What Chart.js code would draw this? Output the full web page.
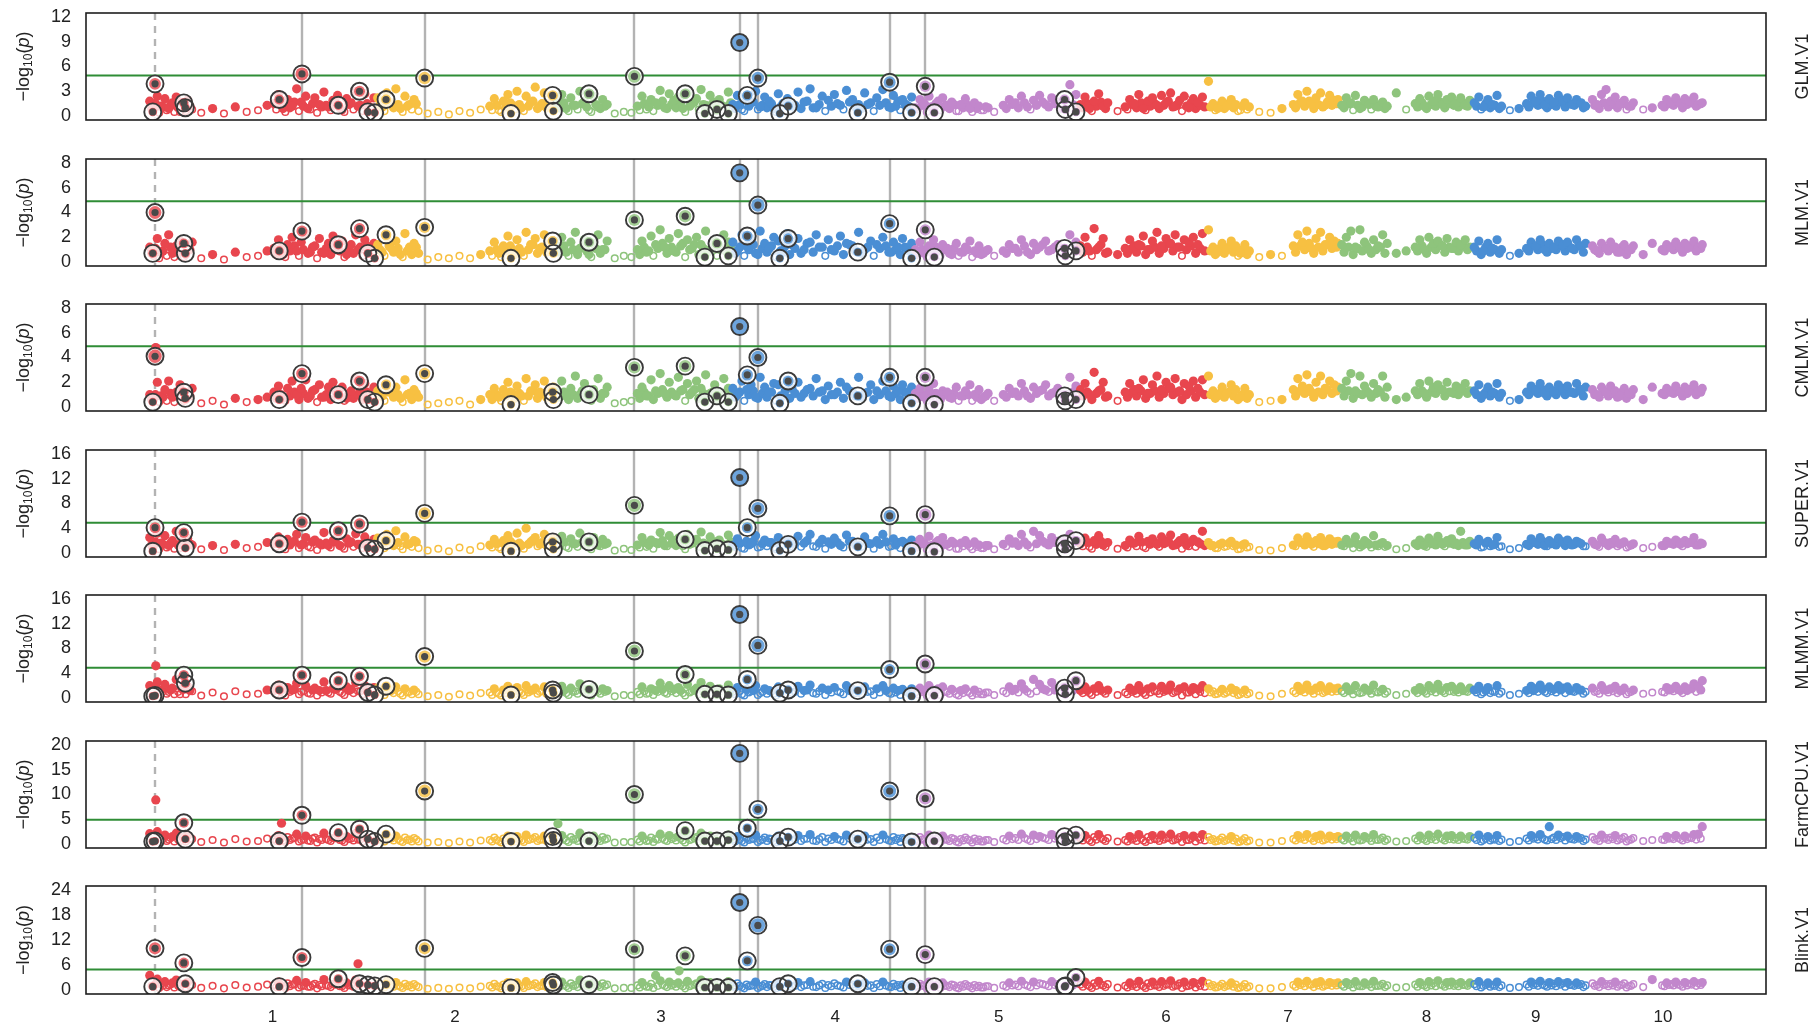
<!DOCTYPE html>
<html>
<head>
<meta charset="utf-8">
<script src="https://cdn.jsdelivr.net/npm/chart.js@4.4.1/dist/chart.umd.min.js"></script>
<style>
html, body { margin: 0; padding: 0; background: #fff; }
#wrap { position: relative; width: 1815px; height: 1024px; overflow: hidden; background: #fff; }
.panel { position: absolute; left: 0; width: 1815px; }
</style>
</head>
<body>
<div id="wrap"></div>
<script>
// ---- panels ----
const panelNames = ['GLM.V1', 'MLM.V1', 'CMLM.V1', 'SUPER.V1', 'MLMM.V1', 'FarmCPU.V1', 'Blink.V1'];
const yMax = [12, 8, 8, 16, 16, 20, 24];
const yTicks = [
    [0, 3, 6, 9, 12],
    [0, 2, 4, 6, 8],
    [0, 2, 4, 6, 8],
    [0, 4, 8, 12, 16],
    [0, 4, 8, 12, 16],
    [0, 5, 10, 15, 20],
    [0, 6, 12, 18, 24]
];
const threshold = 4.9;

// ---- chromosomes (Mb) ----
const chrLen = [301, 237, 232, 241, 217, 169, 176, 175, 156, 150];
const chrColors = ['#e8464e', '#f7c042', '#8ec47c', '#4a8ed4', '#c287cc'];
const chrTickPos = [164, 405, 677, 907, 1123, 1344, 1505, 1688, 1832, 2000];
const chrTickLabels = ['1', '2', '3', '4', '5', '6', '7', '8', '9', '10'];

// marker positions within each chromosome (Mb), first set
const markerPos = [
    [2,7,12,17,22,27,32,37,42,47,52,58,70,85,100,115,130,145,157,166,172,178,184,190,196,202,208,214,220,226,232,238,244,250,256,262,268,274,280,286,292,298],
    [2,8,14,20,26,32,38,44,50,56,68,82,96,110,124,138,150,156,162,168,174,180,186,192,198,204,210,216,222,228,234],
    [2,8,14,20,26,32,38,44,50,56,62,68,78,90,100,108,114,120,126,132,138,144,150,156,162,168,174,180,186,192,198,204,210,216,222,228],
    [2,8,14,20,26,32,38,44,50,56,62,68,74,80,88,96,104,112,120,128,136,144,152,160,168,176,184,192,200,208,214,220,226,232,238],
    [2,8,14,20,26,32,38,44,50,56,62,68,74,80,86,92,98,106,118,126,134,142,150,158,166,174,182,190,198,206,214],
    [3,9,15,21,27,33,39,52,62,68,74,80,86,92,98,104,110,116,122,128,134,140,146,152,158,164],
    [3,9,15,21,27,33,39,45,51,57,70,85,100,115,121,127,133,139,145,151,157,163,169,174],
    [3,9,15,21,27,33,39,45,51,57,63,75,88,100,106,112,118,124,130,136,142,148,154,160,166,172],
    [3,9,15,21,27,33,39,50,62,72,78,84,90,96,102,108,114,120,126,132,138,144,150],
    [3,9,15,21,27,33,39,45,51,57,70,82,95,101,107,113,119,125,131,137,143,148]
];
// second set, dense regions only
const markerPos2 = [
    [4.5,9.5,14.5,19.5,24.5,29.5,34.5,39.5,44.5,49.5,55,169,175,181,187,193,199,205,211,217,223,229,235,241,247,253,259,265,271,277,283,289,295],
    [5,11,17,23,29,35,41,47,53,153,159,165,171,177,183,189,195,201,207,213,219,225,231],
    [5,11,17,23,29,35,41,47,53,59,65,111,117,123,129,135,141,147,153,159,165,171,177,183,189,195,201,207,213,219,225,231],
    [5,11,17,23,29,35,41,47,53,59,65,71,77,84,92,100,108,116,124,132,140,148,156,164,172,180,188,196,204,211,217,223,229,235],
    [5,11,17,23,29,35,41,47,53,59,65,71,77,83,89,95,122,130,138,146,154,162,170,178,186,194,202,210],
    [6,12,18,24,30,36,65,71,77,83,89,95,101,107,113,119,125,131,137,143,149,155,161,167],
    [6,12,18,24,30,36,42,48,54,118,124,130,136,142,148,154,160,166,172],
    [6,12,18,24,30,36,42,48,54,60,103,109,115,121,127,133,139,145,151,157,163,169],
    [6,12,18,24,30,36,75,81,87,93,99,105,111,117,123,129,135,141,147],
    [6,12,18,24,30,36,42,48,54,98,104,110,116,122,128,134,140,146]
];

// -log10(p) of the background markers, one list per chromosome
const glmValues = [
    [1.8,0.6,2.4,1.2,2.1,0.9,1.6,2.3,0.5,1.4,1.9,0.8,0.4,0.9,0.3,1.1,0.5,0.7,1.3,1.5,2.6,0.9,2.0,1.2,3.3,1.7,2.4,0.8,2.2,1.4,2.9,1.1,1.9,2.5,0.7,2.1,1.6,3.0,1.3,2.7,0.9,2.2],
    [2.2,1.1,2.8,1.6,3.3,0.9,2.4,1.4,2.0,0.6,0.3,0.5,0.2,0.6,0.4,0.8,1.2,2.1,0.7,1.8,2.6,1.3,3.0,1.0,2.4,1.7,3.5,1.2,2.8,1.5,2.2],
    [1.6,2.6,0.9,2.2,1.3,3.0,1.8,0.7,2.4,1.1,2.0,1.4,0.3,0.5,0.4,1.2,2.4,0.8,2.0,1.6,3.1,1.0,2.7,1.9,2.3,0.9,2.8,1.5,2.1,3.2,1.3,2.5,1.7,2.0,0.8,2.9],
    [1.4,2.5,0.8,2.0,1.6,3.0,1.1,2.3,1.8,0.9,2.7,1.5,2.1,1.2,2.9,1.7,3.3,1.0,2.4,1.9,2.6,1.3,3.1,2.0,1.4,2.8,1.6,2.2,3.2,1.1,2.5,1.8,2.0,1.3,2.3],
    [1.0,2.0,1.5,2.4,0.8,1.8,2.2,1.3,1.7,0.6,1.4,2.1,0.9,1.6,1.2,0.7,1.0,0.5,1.3,2.0,1.6,2.4,1.1,1.9,2.5,1.4,2.2,1.7,2.0,3.8,2.6],
    [1.4,2.3,0.9,1.8,2.7,1.2,1.6,0.6,1.1,2.0,1.5,2.6,0.9,1.8,2.2,1.3,2.5,1.6,2.8,1.2,1.9,2.4,1.0,2.1,1.7,2.3],
    [4.2,1.5,0.9,1.8,1.2,2.0,1.4,0.7,1.6,1.1,0.5,0.4,0.9,1.4,2.6,1.8,3.0,1.5,2.2,2.8,1.3,2.5,1.9,2.0],
    [1.3,2.2,1.6,2.5,0.9,1.9,1.4,2.0,1.1,1.7,1.2,2.8,0.8,1.5,2.1,1.2,2.4,1.8,2.6,1.4,2.0,2.3,1.6,2.2,1.3,1.9],
    [1.6,2.3,1.1,2.0,1.4,2.5,1.2,0.7,0.9,1.5,2.4,1.8,2.6,1.3,2.1,1.7,2.5,1.9,2.2,1.4,2.0,1.6,1.2],
    [2.0,1.4,2.6,3.2,1.8,2.3,1.5,1.9,1.2,1.6,0.8,1.0,1.3,2.0,1.7,2.2,1.5,2.1,1.8,2.3,1.4,1.6]
];
const glmValues2 = [
    [0.9,1.5,0.4,1.1,0.7,1.3,0.5,1.0,1.6,0.6,1.2,0.8,1.4,0.5,1.0,1.7,0.6,1.2,0.9,1.5,0.4,1.1,1.3,0.7,1.6,1.0,0.5,1.4,0.8,1.2,0.6,1.5,1.0],
    [1.3,0.6,1.7,1.0,1.4,0.5,1.2,0.8,1.5,0.7,1.3,0.5,1.1,1.6,0.8,1.4,0.6,1.2,1.8,0.9,1.5,1.0,1.3],
    [1.0,1.6,0.6,1.3,0.8,1.5,1.1,0.5,1.4,0.9,1.2,0.7,1.5,1.1,0.6,1.3,1.8,0.9,1.4,1.0,1.6,0.5,1.2,1.7,0.8,1.4,1.0,1.5,0.6,1.3,1.1,1.6],
    [0.9,1.4,0.6,1.2,1.7,0.8,1.3,1.0,1.5,0.5,1.1,1.6,0.7,1.3,0.9,1.8,1.0,1.4,0.6,1.2,1.5,0.8,1.7,1.1,0.9,1.4,0.6,1.3,1.6,1.0,1.2,0.7,1.5,1.1],
    [0.8,1.3,0.5,1.1,1.5,0.7,1.2,0.9,1.4,0.6,1.0,1.3,0.5,0.9,0.7,1.1,0.9,1.4,1.0,1.6,0.8,1.3,1.7,1.1,1.5,0.9,1.2,1.4],
    [1.0,1.5,0.6,1.2,1.7,0.9,0.8,1.4,1.0,1.6,0.7,1.2,1.5,0.9,1.3,1.8,1.1,1.4,0.6,1.2,1.6,0.9,1.3,1.1],
    [1.1,0.7,1.3,0.9,1.5,1.0,0.6,1.2,0.8,1.0,1.6,1.2,1.8,0.9,1.4,1.1,1.7,1.3,1.5],
    [1.0,1.5,0.7,1.3,1.1,1.6,0.8,1.2,1.4,0.9,1.1,1.6,0.9,1.4,1.2,1.7,1.0,1.5,1.3,1.1,1.6,1.2],
    [1.2,0.8,1.5,1.0,1.3,0.9,1.1,1.6,1.3,1.8,1.0,1.4,1.2,1.7,1.1,1.5,1.3,1.6,1.0],
    [1.3,0.9,1.6,1.1,1.4,1.0,1.5,0.8,1.2,1.1,1.5,1.3,1.7,1.0,1.4,1.6,1.2,1.5]
];
const mlmValues = [
    [1.2,0.5,1.9,0.8,1.5,2.2,0.7,1.3,1.7,0.4,1.0,1.6,0.3,0.6,0.2,0.8,0.4,0.5,0.9,1.1,1.8,0.6,1.4,2.0,0.9,1.6,2.3,0.8,1.3,1.9,0.7,1.5,2.1,1.0,1.7,0.6,1.4,2.2,1.2,1.8,0.9,1.5],
    [1.4,0.8,2.0,1.1,1.7,0.6,2.3,1.2,1.5,0.7,0.2,0.4,0.3,0.5,0.3,0.6,0.9,1.6,0.7,1.3,2.1,1.0,1.8,0.8,2.4,1.4,1.9,1.1,2.2,1.5,1.7],
    [1.3,2.0,0.8,1.6,2.4,1.1,1.8,0.6,1.5,2.2,1.0,1.7,0.3,0.5,0.4,1.0,1.7,0.8,2.1,1.4,2.6,1.2,1.9,0.9,2.3,1.5,1.8,1.1,2.0,1.4,2.5,1.0,1.7,1.3,2.2,1.6],
    [1.6,0.9,2.2,1.3,1.9,0.7,2.5,1.5,1.1,2.0,1.7,0.8,2.3,1.4,1.9,1.0,1.6,2.2,1.2,1.8,0.9,2.1,1.5,1.3,2.4,1.0,1.7,1.4,2.0,0.8,1.6,1.2,1.9,1.1,1.5],
    [1.0,1.6,0.7,1.3,1.8,0.9,1.4,1.1,0.6,1.5,0.8,1.2,1.7,0.9,1.3,0.7,1.0,0.5,0.9,1.4,1.1,1.8,0.8,1.5,1.2,1.7,1.0,1.4,0.9,2.2,1.6],
    [1.3,2.0,0.9,2.7,1.2,1.9,0.8,0.6,1.1,1.8,1.3,1.4,2.1,1.0,1.7,2.4,1.3,1.9,1.5,2.2,1.2,1.8,1.6,2.0,1.4,2.3],
    [2.6,1.2,0.8,1.5,1.0,1.7,1.3,0.7,1.4,0.9,0.4,0.6,0.5,1.3,2.2,1.6,2.5,1.1,1.9,2.4,1.4,2.0,1.7,1.5],
    [1.4,2.0,2.5,1.2,2.6,1.6,1.0,1.8,1.3,2.2,1.5,0.7,0.9,1.2,1.8,1.0,2.0,1.5,1.7,1.3,1.9,1.1,1.6,1.4,1.8,1.2],
    [1.2,1.7,0.9,1.5,1.1,1.8,1.0,0.5,0.7,1.1,1.6,1.3,1.8,1.0,1.5,1.2,1.7,1.4,1.6,1.1,1.8,1.3,1.5],
    [1.3,0.9,1.5,1.1,1.6,1.2,0.8,1.4,1.0,1.3,0.6,1.5,1.0,1.4,1.2,1.6,1.1,1.5,1.3,1.7,1.2,1.4]
];
const mlmValues2 = [
    [0.7,1.1,0.3,0.9,0.5,1.2,0.4,0.8,1.3,0.6,1.0,0.6,1.1,0.4,0.9,1.3,0.5,1.0,0.7,1.2,0.3,0.8,1.1,0.6,1.4,0.9,0.4,1.2,0.7,1.0,0.5,1.3,0.8],
    [1.0,0.5,1.3,0.8,1.1,0.4,0.9,0.6,1.2,0.5,1.0,0.4,0.9,1.3,0.6,1.1,0.5,1.0,1.4,0.7,1.2,0.8,1.0],
    [0.8,1.3,0.5,1.0,0.6,1.2,0.9,0.4,1.1,0.7,1.0,0.6,1.2,0.9,0.5,1.1,1.5,0.7,1.2,0.8,1.3,0.4,1.0,1.4,0.6,1.1,0.8,1.2,0.5,1.0,0.9,1.3],
    [0.7,1.2,0.5,1.0,1.4,0.6,1.1,0.8,1.3,0.4,0.9,1.3,0.6,1.1,0.7,1.5,0.8,1.2,0.5,1.0,1.3,0.6,1.4,0.9,0.7,1.2,0.5,1.1,1.3,0.8,1.0,0.6,1.2,0.9],
    [0.6,1.0,0.4,0.9,1.2,0.5,1.0,0.7,1.1,0.5,0.8,1.0,0.4,0.7,0.6,0.9,0.7,1.1,0.8,1.3,0.6,1.0,1.4,0.9,1.2,0.7,1.0,1.1],
    [0.8,1.2,0.5,1.0,1.4,0.7,0.7,1.1,0.8,1.3,0.6,1.0,1.2,0.7,1.1,1.5,0.9,1.2,0.5,1.0,1.3,0.7,1.1,0.9],
    [0.9,0.6,1.1,0.7,1.2,0.8,0.5,1.0,0.6,0.8,1.3,1.0,1.5,0.7,1.2,0.9,1.4,1.1,1.2],
    [0.8,1.2,0.6,1.1,0.9,1.3,0.7,1.0,1.2,0.7,0.9,1.3,0.7,1.2,1.0,1.4,0.8,1.2,1.1,0.9,1.3,1.0],
    [0.9,0.6,1.2,0.8,1.0,0.7,0.9,1.3,1.0,1.4,0.8,1.1,1.0,1.3,0.9,1.2,1.0,1.3,0.8],
    [1.0,0.7,1.2,0.9,1.1,0.8,1.2,0.6,1.0,0.9,1.2,1.0,1.3,0.8,1.1,1.2,0.9,1.1]
];
const cmlmValues = [
    [1.0,0.6,2.0,0.9,1.4,2.1,0.8,1.2,1.8,0.5,1.1,1.5,0.3,0.5,0.2,0.7,0.4,0.6,0.8,1.2,1.7,0.7,1.5,2.1,1.0,1.5,2.2,0.9,1.4,1.8,0.8,1.6,2.0,1.1,1.6,0.7,1.3,2.3,1.3,1.9,1.0,1.6],
    [1.3,0.9,1.9,1.2,1.6,0.7,2.2,1.1,1.4,0.8,0.2,0.3,0.4,0.5,0.2,0.6,1.0,1.5,0.8,1.4,2.0,1.1,1.7,0.9,2.3,1.3,1.8,1.2,2.1,1.4,1.6],
    [1.2,2.1,0.9,1.5,2.5,1.0,1.9,0.7,1.4,2.3,1.1,1.6,0.3,0.4,0.5,1.1,1.6,0.9,2.2,1.3,2.7,1.1,2.0,1.0,2.4,1.4,1.9,1.2,2.1,1.5,2.6,1.1,1.8,1.2,2.3,1.5],
    [1.5,1.0,2.1,1.4,1.8,0.8,2.4,1.6,1.2,1.9,1.8,0.9,2.2,1.5,2.0,1.1,1.5,2.3,1.3,1.7,1.0,2.0,1.6,1.2,2.4,1.1,1.8,1.3,2.1,0.9,1.7,1.3,1.8,1.2,1.6],
    [1.1,1.5,0.8,1.4,1.9,1.0,1.3,1.2,0.7,1.6,0.9,1.3,1.8,1.0,1.4,0.8,1.1,0.5,1.0,1.5,1.2,1.9,0.9,1.6,1.3,1.8,1.1,1.5,1.0,2.4,1.7],
    [1.4,1.9,1.0,2.8,1.3,2.0,0.9,0.5,1.2,1.9,1.4,1.5,2.2,1.1,1.8,2.5,1.4,2.0,1.6,2.3,1.3,1.9,1.7,2.1,1.5,2.2],
    [2.5,1.3,0.9,1.6,1.1,1.8,1.4,0.8,1.5,1.0,0.4,0.5,0.6,1.4,2.3,1.7,2.6,1.2,2.0,2.5,1.5,2.1,1.8,1.6],
    [1.5,2.1,2.7,1.3,2.5,1.7,1.1,1.9,1.4,2.5,1.6,0.6,0.8,1.3,1.9,1.1,2.1,1.6,1.8,1.4,2.0,1.2,1.7,1.5,1.9,1.3],
    [1.3,1.8,1.0,1.6,1.2,1.9,1.1,0.5,0.6,1.2,1.7,1.4,1.9,1.1,1.6,1.3,1.8,1.5,1.7,1.2,1.9,1.4,1.6],
    [1.4,1.0,1.6,1.2,1.7,1.3,0.9,1.5,1.1,1.4,0.6,1.6,1.1,1.5,1.3,1.7,1.2,1.6,1.4,1.8,1.3,1.5]
];
const cmlmValues2 = [
    [0.6,1.0,0.4,0.8,0.5,1.1,0.4,0.9,1.2,0.6,0.9,0.7,1.0,0.5,0.9,1.2,0.6,1.1,0.7,1.3,0.4,0.8,1.0,0.6,1.3,0.9,0.5,1.1,0.7,1.0,0.6,1.2,0.8],
    [0.9,0.5,1.2,0.8,1.0,0.4,1.0,0.6,1.1,0.6,1.0,0.5,0.9,1.2,0.7,1.1,0.5,0.9,1.3,0.7,1.1,0.8,1.0],
    [0.8,1.2,0.6,1.0,0.7,1.3,0.9,0.5,1.0,0.7,1.1,0.7,1.2,0.9,0.6,1.1,1.4,0.8,1.2,0.9,1.3,0.5,1.0,1.4,0.7,1.1,0.8,1.2,0.6,1.0,0.9,1.2],
    [0.8,1.2,0.5,1.0,1.3,0.7,1.1,0.8,1.2,0.5,0.9,1.3,0.7,1.1,0.8,1.4,0.9,1.2,0.6,1.0,1.2,0.7,1.3,0.9,0.8,1.2,0.6,1.0,1.3,0.8,1.1,0.6,1.2,0.9],
    [0.7,1.0,0.5,0.9,1.1,0.6,1.0,0.8,1.1,0.5,0.9,1.0,0.5,0.8,0.6,0.9,0.8,1.1,0.9,1.3,0.7,1.1,1.4,0.9,1.2,0.8,1.0,1.2],
    [0.9,1.2,0.6,1.1,1.4,0.8,0.8,1.2,0.9,1.3,0.7,1.1,1.3,0.8,1.1,1.5,1.0,1.2,0.6,1.0,1.3,0.8,1.2,1.0],
    [1.0,0.7,1.1,0.8,1.2,0.9,0.6,1.0,0.7,0.9,1.3,1.1,1.5,0.8,1.2,1.0,1.4,1.1,1.3],
    [0.9,1.3,0.7,1.1,1.0,1.3,0.8,1.1,1.2,0.8,1.0,1.3,0.8,1.2,1.1,1.4,0.9,1.2,1.1,1.0,1.3,1.1],
    [1.0,0.7,1.2,0.9,1.1,0.8,1.0,1.3,1.1,1.4,0.9,1.2,1.0,1.3,1.0,1.2,1.1,1.3,0.9],
    [1.0,0.8,1.3,0.9,1.1,0.8,1.2,0.7,1.0,1.0,1.2,1.1,1.3,0.9,1.1,1.3,1.0,1.2]
];
const superValues = [
    [2.5,1.0,3.2,1.6,2.8,1.2,2.0,3.5,0.8,1.8,2.4,1.3,0.6,1.2,0.5,1.4,0.8,1.0,1.7,1.5,2.6,1.0,2.2,1.7,3.0,1.3,2.5,0.9,2.1,1.6,3.3,1.2,2.0,2.7,1.0,2.3,1.8,3.1,1.4,2.6,1.1,2.2],
    [2.4,1.3,3.0,1.8,3.6,1.1,2.6,1.5,2.0,0.8,0.4,0.7,0.3,0.9,0.5,1.1,1.3,2.2,0.9,2.0,2.8,1.5,3.2,1.2,4.0,1.8,2.5,1.4,3.0,1.6,2.3],
    [1.8,2.7,1.0,2.3,1.5,3.2,2.0,0.9,2.5,1.3,2.2,1.6,0.4,0.7,0.5,1.3,2.5,1.0,2.1,1.7,3.3,1.2,2.8,2.0,2.4,1.1,3.0,1.6,2.2,3.4,1.4,2.6,1.8,2.1,1.0,2.9],
    [1.3,2.3,0.8,1.9,1.5,2.8,1.0,2.1,1.7,0.9,2.5,1.4,2.0,1.1,2.7,1.6,3.0,1.0,2.2,1.8,2.4,1.2,2.9,1.9,1.3,2.6,1.5,2.0,3.0,1.0,2.3,1.7,1.9,1.2,2.1],
    [1.2,2.2,1.6,2.7,0.9,2.0,2.5,1.4,1.9,0.7,1.6,2.0,1.0,1.8,1.3,0.8,1.2,0.6,1.4,2.3,1.8,3.0,1.3,3.5,2.8,1.6,2.5,1.9,2.2,3.0,2.0],
    [1.5,2.4,1.0,2.0,2.8,1.3,1.7,0.7,1.2,2.1,1.6,2.7,1.0,1.9,2.3,1.4,2.6,1.7,2.9,1.3,2.0,2.5,1.1,2.2,1.8,3.5],
    [1.7,1.2,0.8,1.6,1.1,1.9,1.3,0.7,1.5,1.0,0.5,0.4,0.8,1.3,2.4,1.7,2.6,1.4,2.0,2.5,1.2,2.3,1.8,1.9],
    [1.3,2.2,1.6,2.6,0.9,2.0,1.4,2.8,1.1,1.7,1.2,0.6,0.8,1.5,2.1,1.2,2.4,1.8,2.7,1.4,2.0,2.3,1.6,3.5,1.3,1.9],
    [1.5,2.2,1.0,1.9,1.3,2.5,1.1,0.6,0.8,1.4,2.3,1.7,2.5,1.2,2.0,1.6,2.4,1.8,2.1,1.3,1.9,1.5,1.1],
    [1.9,1.3,2.4,1.6,1.7,2.2,1.4,1.8,1.1,1.5,0.8,1.0,1.2,1.9,1.6,2.1,1.4,2.0,1.7,2.5,1.3,1.5]
];
const superValues2 = [
    [1.2,1.8,0.6,1.4,0.9,1.6,0.7,1.3,2.0,0.8,1.5,1.0,1.7,0.6,1.3,1.9,0.8,1.5,1.1,1.8,0.5,1.3,1.6,0.9,1.8,1.2,0.7,1.6,1.0,1.4,0.8,1.7,1.2],
    [1.5,0.8,2.0,1.2,1.7,0.6,1.4,1.0,1.8,0.9,1.5,0.6,1.3,1.9,1.0,1.6,0.7,1.4,2.1,1.1,1.7,1.2,1.5],
    [1.2,1.8,0.8,1.5,1.0,1.7,1.3,0.6,1.6,1.1,1.4,0.9,1.7,1.3,0.7,1.5,2.0,1.1,1.6,1.2,1.8,0.6,1.4,1.9,1.0,1.6,1.2,1.7,0.8,1.5,1.3,1.8],
    [1.0,1.6,0.7,1.3,1.9,0.9,1.5,1.1,1.7,0.6,1.2,1.8,0.8,1.5,1.0,2.0,1.1,1.6,0.7,1.4,1.7,0.9,1.9,1.3,1.0,1.6,0.7,1.4,1.8,1.1,1.3,0.8,1.6,1.2],
    [0.9,1.5,0.6,1.2,1.7,0.8,1.4,1.0,1.6,0.7,1.1,1.4,0.6,1.0,0.8,1.2,1.1,1.6,1.2,1.8,0.9,1.5,1.9,1.3,1.7,1.0,1.4,1.6],
    [1.1,1.7,0.7,1.4,1.9,1.0,0.9,1.6,1.1,1.8,0.8,1.4,1.7,1.0,1.5,2.0,1.2,1.6,0.7,1.3,1.8,1.0,1.5,1.2],
    [1.2,0.8,1.4,1.0,1.6,1.1,0.6,1.3,0.9,1.1,1.7,1.3,1.9,1.0,1.5,1.2,1.8,1.4,1.6],
    [1.1,1.6,0.8,1.4,1.2,1.7,0.9,1.3,1.5,1.0,1.2,1.7,1.0,1.5,1.3,1.8,1.1,1.6,1.4,1.2,1.7,1.3],
    [1.3,0.9,1.6,1.1,1.4,1.0,1.2,1.7,1.4,1.9,1.1,1.5,1.3,1.8,1.2,1.6,1.4,1.7,1.1],
    [1.4,1.0,1.7,1.2,1.5,1.1,1.6,0.9,1.3,1.2,1.6,1.4,1.8,1.1,1.5,1.7,1.3,1.6]
];
const mlmmValues = [
    [2.0,0.8,2.6,1.3,2.2,1.0,1.6,3.0,0.6,1.4,1.9,1.1,0.4,0.9,0.3,1.1,0.6,0.7,1.3,1.2,2.1,0.8,1.7,1.3,2.4,1.0,2.0,0.7,1.6,1.2,2.6,0.9,1.5,2.2,0.8,1.8,1.4,2.5,1.1,2.0,0.9,1.7],
    [1.6,0.9,2.0,1.2,1.8,0.7,1.5,1.0,1.3,0.6,0.3,0.5,0.2,0.6,0.4,0.8,0.9,1.5,0.7,1.3,1.9,1.0,1.7,0.8,2.0,1.2,1.6,1.0,1.8,1.1,1.4],
    [1.2,1.9,0.8,1.6,1.1,2.3,1.4,0.7,1.8,1.0,1.5,1.2,0.3,0.5,0.4,1.0,1.8,0.7,1.5,1.2,2.4,0.9,2.0,1.4,1.7,0.8,2.2,1.1,1.6,2.5,1.0,1.9,1.3,1.5,0.8,2.1],
    [1.0,1.7,0.6,1.4,1.1,2.0,0.8,1.5,1.2,0.7,1.8,1.0,1.4,0.8,1.9,1.2,2.1,0.7,1.6,1.3,1.7,0.9,2.0,1.4,1.0,1.8,1.1,1.5,2.0,0.8,1.6,1.2,1.4,0.9,1.5],
    [0.9,1.6,1.2,2.0,0.7,1.5,1.8,1.0,1.4,0.6,1.2,1.5,0.8,1.3,1.0,0.6,0.9,0.5,1.1,1.8,1.4,2.3,1.0,3.0,2.2,1.3,2.5,1.5,1.8,2.4,1.6],
    [1.2,1.8,0.8,1.5,2.0,1.0,1.3,0.5,0.9,1.6,1.2,2.0,0.8,1.5,1.8,1.1,1.9,1.3,2.1,1.0,1.5,1.8,0.9,1.7,1.4,2.0],
    [1.5,1.1,0.7,1.4,0.9,1.6,1.2,0.6,1.3,0.8,0.4,0.3,0.7,1.1,1.9,1.4,2.1,1.2,1.6,2.0,1.0,1.8,1.5,1.6],
    [1.1,1.8,1.3,2.0,0.8,1.6,1.2,2.1,0.9,1.4,1.0,0.5,0.7,1.2,1.7,1.0,2.0,1.5,2.2,1.1,1.7,1.9,1.3,1.8,1.1,1.6],
    [1.3,1.9,0.9,1.7,1.1,2.0,1.0,0.5,0.7,1.2,1.9,1.5,2.1,1.0,1.8,1.4,2.0,1.6,1.8,1.1,1.7,1.3,1.0],
    [1.6,1.1,2.0,1.3,1.5,1.9,1.2,1.6,0.9,1.3,0.7,0.9,1.0,1.7,1.4,1.9,1.2,1.8,1.5,2.3,1.9,2.8]
];
const mlmmValues2 = [
    [1.0,1.4,0.5,1.1,0.7,1.3,0.6,1.0,1.5,0.6,1.2,0.7,1.2,0.4,1.0,1.4,0.6,1.1,0.8,1.3,0.4,0.9,1.2,0.7,1.4,1.0,0.5,1.2,0.8,1.1,0.6,1.3,0.9],
    [1.0,0.5,1.3,0.8,1.1,0.4,0.9,0.6,1.0,0.5,0.9,0.4,0.8,1.2,0.6,1.0,0.5,0.9,1.3,0.7,1.1,0.7,0.9],
    [0.8,1.2,0.5,1.0,0.7,1.3,0.9,0.4,1.1,0.7,1.0,0.6,1.1,0.8,0.5,1.0,1.4,0.7,1.1,0.8,1.2,0.4,0.9,1.3,0.6,1.0,0.8,1.1,0.5,0.9,0.8,1.2],
    [0.6,1.1,0.4,0.9,1.2,0.5,1.0,0.7,1.1,0.4,0.8,1.2,0.5,1.0,0.7,1.3,0.8,1.1,0.5,0.9,1.1,0.6,1.2,0.8,0.6,1.0,0.5,0.9,1.2,0.7,0.9,0.5,1.1,0.8],
    [0.6,1.0,0.4,0.9,1.2,0.5,1.0,0.7,1.1,0.4,0.8,1.0,0.4,0.7,0.6,0.9,0.8,1.2,0.9,1.4,0.7,1.1,1.5,1.0,1.3,0.8,1.1,1.2],
    [0.8,1.2,0.5,1.0,1.3,0.7,0.6,1.0,0.7,1.2,0.5,0.9,1.1,0.7,1.0,1.3,0.8,1.1,0.4,0.9,1.2,0.6,1.0,0.8],
    [0.9,0.6,1.0,0.7,1.1,0.8,0.5,0.9,0.6,0.8,1.2,0.9,1.3,0.7,1.1,0.8,1.2,1.0,1.1],
    [0.8,1.2,0.6,1.0,0.9,1.3,0.7,1.0,1.1,0.7,0.8,1.2,0.7,1.1,0.9,1.3,0.8,1.1,1.0,0.9,1.2,1.0],
    [0.9,0.6,1.2,0.8,1.0,0.7,0.8,1.2,1.0,1.4,0.8,1.1,0.9,1.3,0.8,1.2,1.0,1.3,0.7],
    [1.0,0.7,1.3,0.9,1.1,0.8,1.2,0.6,1.0,0.9,1.3,1.1,1.4,0.8,1.2,1.5,1.0,1.3]
];
const farmcpuValues = [
    [2.1,0.8,2.5,1.2,1.8,0.9,1.5,2.2,0.6,1.3,1.7,1.0,0.4,0.8,0.3,1.0,0.5,0.6,1.1,1.0,1.7,0.7,1.4,1.1,2.0,0.8,1.6,0.6,1.3,1.0,2.2,0.8,1.2,1.8,0.7,1.5,1.1,2.1,0.9,1.6,0.8,1.4],
    [1.4,0.8,1.8,1.1,1.6,0.6,1.3,0.9,1.2,0.5,0.3,0.4,0.2,0.5,0.3,0.7,0.8,1.3,0.6,1.1,1.6,0.9,1.5,0.7,1.8,1.0,1.4,0.9,1.6,1.0,1.2],
    [1.1,1.7,0.7,1.4,1.0,2.2,1.3,0.6,1.6,0.9,1.4,1.1,0.3,0.4,0.4,0.9,1.6,0.6,1.3,1.0,2.0,0.8,1.7,1.2,1.5,0.7,1.9,1.0,1.4,2.2,0.9,1.6,1.1,1.3,0.7,1.8],
    [0.9,1.5,0.6,1.2,1.0,1.8,0.7,1.3,1.1,0.6,1.6,0.9,1.2,0.7,1.7,1.0,1.9,0.6,1.4,1.1,1.5,0.8,1.8,1.2,0.9,1.6,1.0,1.3,1.8,0.7,1.4,1.1,1.2,0.8,1.3],
    [0.8,1.4,1.0,1.8,0.6,1.3,1.6,0.9,1.2,0.5,1.0,1.3,0.7,1.1,0.9,0.5,0.8,0.4,1.0,1.6,1.2,2.0,0.9,1.8,1.5,1.1,1.9,1.3,1.6,1.7,1.4],
    [1.1,1.7,0.7,1.4,1.9,0.9,1.2,0.5,0.8,1.5,1.1,1.9,0.7,1.4,1.7,1.0,1.8,1.2,2.0,0.9,1.4,1.7,0.8,1.6,1.3,1.9],
    [1.4,1.0,0.6,1.3,0.8,1.5,1.1,0.5,1.2,0.7,0.3,0.3,0.6,1.0,1.7,1.3,1.9,1.1,1.5,1.8,0.9,1.6,1.4,1.5],
    [1.0,1.6,1.2,1.8,0.7,1.5,1.1,1.9,0.8,1.3,0.9,0.5,0.6,1.1,1.6,0.9,1.8,1.4,2.0,1.0,1.6,1.7,1.2,1.6,1.0,1.5],
    [1.2,1.8,0.8,1.5,1.0,1.7,0.9,0.4,0.6,1.1,1.7,1.3,1.9,0.9,3.5,1.3,1.8,1.4,1.6,1.0,1.5,1.2,0.9],
    [1.4,1.0,1.8,1.2,1.3,1.7,1.0,1.4,0.8,1.2,0.6,0.8,0.9,1.5,1.2,1.7,1.0,1.6,1.3,1.9,2.0,3.5]
];
const farmcpuValues2 = [
    [0.9,1.3,0.4,1.0,0.6,1.2,0.5,0.9,1.4,0.5,1.0,0.6,1.0,0.4,0.8,1.2,0.5,0.9,0.7,1.1,0.3,0.8,1.0,0.6,1.2,0.8,0.4,1.0,0.7,0.9,0.5,1.1,0.8],
    [0.9,0.5,1.1,0.7,1.0,0.4,0.8,0.5,0.9,0.5,0.8,0.3,0.7,1.0,0.5,0.9,0.4,0.8,1.1,0.6,0.9,0.6,0.8],
    [0.7,1.1,0.4,0.9,0.6,1.2,0.8,0.4,1.0,0.6,0.9,0.5,1.0,0.7,0.4,0.9,1.2,0.6,1.0,0.7,1.1,0.3,0.8,1.2,0.5,0.9,0.7,1.0,0.4,0.8,0.7,1.1],
    [0.5,0.9,0.3,0.8,1.0,0.4,0.9,0.6,1.0,0.3,0.7,1.0,0.4,0.9,0.6,1.1,0.7,1.0,0.4,0.8,1.0,0.5,1.1,0.7,0.5,0.9,0.4,0.8,1.0,0.6,0.8,0.4,1.0,0.7],
    [0.5,0.9,0.3,0.8,1.0,0.4,0.9,0.6,1.0,0.3,0.7,0.9,0.3,0.6,0.5,0.8,0.7,1.0,0.8,1.2,0.6,1.0,1.3,0.8,1.1,0.7,0.9,1.0],
    [0.7,1.1,0.4,0.9,1.2,0.6,0.5,0.9,0.6,1.1,0.4,0.8,1.0,0.6,0.9,1.2,0.7,1.0,0.4,0.8,1.1,0.5,0.9,0.7],
    [0.8,0.5,0.9,0.6,1.0,0.7,0.4,0.8,0.5,0.7,1.1,0.8,1.2,0.6,1.0,0.7,1.1,0.9,1.0],
    [0.7,1.1,0.5,0.9,0.8,1.2,0.6,0.9,1.0,0.6,0.7,1.1,0.6,1.0,0.8,1.2,0.7,1.0,0.9,0.8,1.1,0.9],
    [0.8,0.5,1.1,0.7,0.9,0.6,0.7,1.1,0.9,1.2,0.7,1.0,0.8,1.2,0.7,1.1,0.9,1.1,0.6],
    [0.9,0.6,1.1,0.8,1.0,0.7,1.1,0.5,0.9,0.8,1.1,1.0,1.2,0.7,1.0,1.2,0.9,1.1]
];
const blinkValues = [
    [3.5,1.0,2.6,1.4,2.0,1.1,1.7,2.4,0.8,1.5,1.9,1.2,0.5,1.0,0.4,1.2,0.6,0.8,1.3,1.2,1.9,0.9,1.6,1.3,2.3,1.0,1.8,0.8,1.5,1.2,2.5,1.0,1.4,2.1,0.9,1.7,1.3,2.4,1.1,1.8,1.0,1.6],
    [1.6,1.0,2.0,1.3,1.8,0.8,1.5,1.1,1.4,0.7,0.3,0.5,0.3,0.6,0.4,0.8,1.0,1.5,0.8,1.3,1.8,1.1,1.7,0.9,2.0,1.2,1.6,1.0,1.8,1.2,1.4],
    [1.3,1.9,0.9,1.6,1.2,2.4,1.5,0.8,1.8,1.1,1.6,1.3,0.4,0.5,0.5,1.1,1.8,0.8,1.5,3.5,2.2,1.0,1.9,1.4,1.7,0.9,2.1,1.2,1.6,2.4,1.1,1.8,1.3,1.5,0.9,2.0],
    [1.0,1.6,0.7,1.3,1.1,1.9,0.8,1.4,1.2,0.7,1.7,1.0,1.3,0.8,1.8,1.1,2.0,0.7,1.5,1.2,1.6,0.9,1.9,1.3,1.0,1.7,1.1,1.4,1.9,0.8,1.5,1.2,1.3,0.9,1.4],
    [0.9,1.5,1.1,1.9,0.7,1.4,1.7,1.0,1.3,0.6,1.1,1.4,0.8,1.2,1.0,0.6,0.9,0.5,1.1,1.7,1.3,2.1,1.0,1.9,1.6,1.2,2.0,1.4,1.7,1.8,1.5],
    [1.3,1.9,0.9,1.6,2.1,1.1,1.4,0.6,1.0,1.7,1.3,2.1,0.9,1.6,1.9,1.2,2.0,1.4,2.2,1.1,1.6,1.9,1.0,1.8,1.5,2.1],
    [1.6,1.2,0.7,1.5,1.0,1.7,1.3,0.6,1.4,0.9,0.4,0.4,0.7,1.2,1.9,1.5,2.1,1.3,1.7,2.0,1.1,1.8,1.6,1.7],
    [1.2,1.8,1.4,2.0,0.9,1.7,1.3,2.1,1.0,1.5,1.1,0.6,0.7,1.3,1.8,1.1,2.0,1.6,2.2,1.2,1.8,1.9,1.4,1.8,1.2,1.7],
    [1.4,2.0,1.0,1.7,1.2,1.9,1.1,0.5,0.7,1.3,1.9,1.5,2.1,1.1,1.8,1.5,2.0,1.6,1.8,1.2,1.7,1.4,1.1],
    [1.6,1.2,2.0,1.4,1.5,1.9,1.2,1.6,1.0,1.4,0.7,2.5,1.1,1.7,1.4,1.9,1.2,1.8,1.5,2.0,1.6,1.8]
];
const blinkValues2 = [
    [1.0,1.4,0.5,1.1,0.7,1.3,0.6,1.0,1.5,0.6,1.1,0.7,1.1,0.5,0.9,1.3,0.6,1.0,0.8,1.2,0.4,0.9,1.1,0.7,1.3,0.9,0.5,1.1,0.8,1.0,0.6,1.2,0.9],
    [1.0,0.6,1.2,0.8,1.1,0.5,0.9,0.6,1.0,0.6,0.9,0.4,0.8,1.1,0.6,1.0,0.5,0.9,1.2,0.7,1.0,0.7,0.9],
    [0.8,1.2,0.5,1.0,0.7,1.3,0.9,0.5,1.1,0.7,1.0,0.6,1.1,0.8,0.5,1.0,1.3,0.7,1.1,0.8,1.2,0.4,0.9,1.3,0.6,1.0,0.8,1.1,0.5,0.9,0.8,1.2],
    [0.6,1.0,0.4,0.9,1.1,0.5,1.0,0.7,1.1,0.4,0.8,1.1,0.5,1.0,0.7,1.2,0.8,1.1,0.5,0.9,1.1,0.6,1.2,0.8,0.6,1.0,0.5,0.9,1.1,0.7,0.9,0.5,1.1,0.8],
    [0.6,1.0,0.4,0.9,1.1,0.5,1.0,0.7,1.1,0.4,0.8,1.0,0.4,0.7,0.6,0.9,0.8,1.1,0.9,1.3,0.7,1.1,1.4,0.9,1.2,0.8,1.0,1.1],
    [0.8,1.2,0.5,1.0,1.3,0.7,0.6,1.0,0.7,1.2,0.5,0.9,1.1,0.7,1.0,1.3,0.8,1.1,0.5,0.9,1.2,0.6,1.0,0.8],
    [0.9,0.6,1.0,0.7,1.1,0.8,0.5,0.9,0.6,0.8,1.2,0.9,1.3,0.7,1.1,0.8,1.2,1.0,1.1],
    [0.8,1.2,0.6,1.0,0.9,1.3,0.7,1.0,1.1,0.7,0.8,1.2,0.7,1.1,0.9,1.3,0.8,1.1,1.0,0.9,1.2,1.0],
    [0.9,0.6,1.2,0.8,1.0,0.7,0.8,1.2,1.0,1.3,0.8,1.1,0.9,1.3,0.8,1.2,1.0,1.2,0.7],
    [1.0,0.7,1.2,0.9,1.1,0.8,1.2,0.6,1.0,0.9,1.2,1.1,1.3,0.8,1.1,1.3,1.0,1.2]
];

// stand-alone markers that are not in the shared lists
const extraPanel = [2, 4, 5, 5, 5, 6, 6];
const extraChr = [1, 1, 1, 1, 3, 1, 3];
const extraPos = [10, 10, 10, 176, 3, 277, 163];
const extraVal = [4.8, 5.2, 8.9, 4.2, 4.1, 6.3, 4.6];

// circled (highlighted) markers
const hitChr = [1,1,1,1,1,1,1,1,1,1,2,2,2,2,2,3,3,3,3,3,3,4,4,4,4,4,4,4,4,5,5,5,5,5];
const hitPos = [6,9,47,49,173,203,251,279,290,299,13,64,178,233,234,44,104,171,197,213,228,11,21,35,64,75,167,209,238,15,27,199,200,214];
const glmHits     = [0.5,3.9,1.6,1.0,2.0,5.1,1.3,3.0,0.5,0.4,2.0,4.6,0.3,2.5,0.6,2.7,4.8,2.7,0.3,0.8,0.3,8.9,2.5,4.6,0.3,1.2,0.4,4.1,0.4,3.6,0.4,2.0,0.8,0.5];
const mlmHits     = [0.7,4.0,1.5,0.7,0.9,2.5,1.4,2.7,0.7,0.3,2.2,2.8,0.3,1.7,0.7,1.6,3.4,3.7,0.4,1.5,0.5,7.2,2.1,4.6,0.3,1.9,0.8,3.1,0.3,2.6,0.4,1.1,0.5,0.9];
const cmlmHits    = [0.4,4.1,1.2,0.7,0.6,2.7,1.0,2.1,0.6,0.4,1.8,2.7,0.2,1.2,0.6,1.0,3.2,3.3,0.4,0.9,0.4,6.5,2.6,4.0,0.3,2.1,0.9,2.4,0.3,2.4,0.2,0.9,0.5,0.6];
const superHits   = [0.3,4.1,3.3,0.8,1.5,5.0,3.6,4.7,0.8,0.6,2.0,6.4,0.3,1.8,0.6,1.8,7.7,2.2,0.4,0.7,0.5,12.2,4.1,7.2,0.4,1.4,1.0,6.0,0.3,6.2,0.2,1.5,0.6,2.0];
const mlmmHits    = [0.3,0.4,3.7,2.4,1.3,3.7,2.8,3.5,0.9,0.5,1.9,6.7,0.5,1.3,0.8,1.4,7.6,3.8,0.6,0.6,0.5,13.5,3.0,8.5,0.8,1.3,1.2,4.6,0.3,5.5,0.4,1.6,0.6,2.8];
const farmcpuHits = [0.5,0.6,4.3,1.0,0.6,5.8,2.3,3.0,1.0,0.5,2.0,10.7,0.5,1.5,0.7,0.6,10.0,2.7,0.6,0.6,0.8,18.3,3.2,7.0,0.6,1.4,1.0,10.7,0.4,9.2,0.6,1.5,0.4,1.8];
const blinkHits   = [0.8,10.0,6.5,1.5,0.8,7.8,2.7,1.5,1.2,1.0,1.3,10.0,0.5,1.8,1.2,1.3,9.8,8.2,0.6,0.6,0.6,21.0,7.0,15.5,0.8,1.5,1.5,9.8,0.8,8.5,0.8,0.8,1.0,3.0];

// marker lines drawn through every panel
const lineChr = [1, 1, 2, 3, 4, 4, 4, 5];
const linePos = [9, 203, 64, 104, 11, 35, 209, 15];
const lineDashed = [true, false, false, false, false, false, false, false];

const panelValues = [glmValues, mlmValues, cmlmValues, superValues, mlmmValues, farmcpuValues, blinkValues];
const panelValues2 = [glmValues2, mlmValues2, cmlmValues2, superValues2, mlmmValues2, farmcpuValues2, blinkValues2];
const panelHits = [glmHits, mlmHits, cmlmHits, superHits, mlmmHits, farmcpuHits, blinkHits];

// ---- helpers ----
const FONT = '"Liberation Sans", Arial, Helvetica, sans-serif';
Chart.defaults.font.family = FONT;

const chrStart = [];
let acc = 0;
chrLen.forEach((len, i) => { chrStart[i] = acc; acc += len; });
const genomeLen = acc;
const xMin = -0.04 * genomeLen;
const xMax = genomeLen * 1.04;

function cumPos(chr, pos) { return chrStart[chr - 1] + pos; }
function colorOf(chr) { return chrColors[(chr - 1) % chrColors.length]; }
function withAlpha(hex, a) {
    const n = parseInt(hex.slice(1), 16);
    return `rgba(${(n >> 16) & 255}, ${(n >> 8) & 255}, ${n & 255}, ${a})`;
}

function pushMarkers(out, positions, values) {
    values.forEach((vals, c) => {
        vals.forEach((v, k) => {
            if (k < positions[c].length) out.push({ x: cumPos(c + 1, positions[c][k]), y: v, chr: c + 1 });
        });
    });
}

const decorPlugin = {
    id: 'decor',
    beforeDatasetsDraw(chart) {
        const { ctx, chartArea: a, scales: { x, y } } = chart;
        ctx.save();
        ctx.beginPath();
        ctx.rect(a.left, a.top, a.right - a.left, a.bottom - a.top);
        ctx.clip();
        lineChr.forEach((c, k) => {
            const px = Math.round(x.getPixelForValue(cumPos(c, linePos[k])));
            ctx.strokeStyle = '#b3b3b3';
            ctx.lineWidth = 2.4;
            ctx.setLineDash(lineDashed[k] ? [7, 6] : []);
            ctx.beginPath();
            ctx.moveTo(px, a.top);
            ctx.lineTo(px, a.bottom);
            ctx.stroke();
        });
        ctx.setLineDash([]);
        const py = y.getPixelForValue(threshold);
        ctx.strokeStyle = '#2f8d36';
        ctx.lineWidth = 2;
        ctx.beginPath();
        ctx.moveTo(a.left, py);
        ctx.lineTo(a.right, py);
        ctx.stroke();
        ctx.restore();
    },
    afterDraw(chart, args, opts) {
        const { ctx, chartArea: a } = chart;
        const midY = (a.top + a.bottom) / 2;
        ctx.save();
        ctx.strokeStyle = '#1e1e1e';
        ctx.lineWidth = 1.6;
        ctx.strokeRect(a.left, a.top, a.right - a.left, a.bottom - a.top);

        // y title: -log10(p)
        ctx.fillStyle = '#222';
        ctx.textBaseline = 'middle';
        ctx.textAlign = 'left';
        const parts = [
            { t: '\u2212log', f: `18px ${FONT}`, dy: 0 },
            { t: '10', f: `12px ${FONT}`, dy: 5 },
            { t: '(', f: `18px ${FONT}`, dy: 0 },
            { t: 'p', f: `italic 18px ${FONT}`, dy: 0 },
            { t: ')', f: `18px ${FONT}`, dy: 0 }
        ];
        let total = 0;
        parts.forEach(p => { ctx.font = p.f; p.w = ctx.measureText(p.t).width; total += p.w; });
        ctx.translate(24, midY);
        ctx.rotate(-Math.PI / 2);
        let cx = -total / 2;
        parts.forEach(p => { ctx.font = p.f; ctx.fillText(p.t, cx, p.dy); cx += p.w; });
        ctx.restore();

        // panel name on the right
        ctx.save();
        ctx.fillStyle = '#222';
        ctx.font = `18px ${FONT}`;
        ctx.textAlign = 'center';
        ctx.textBaseline = 'middle';
        ctx.translate(1803, midY);
        ctx.rotate(-Math.PI / 2);
        ctx.fillText(opts.label, 0, 0);
        ctx.restore();
    }
};

function buildPanel(i) {
    const top = Math.round(i * 145.5);
    const last = i === panelNames.length - 1;
    const h = last ? 1024 - top : 146;
    const ym = yMax[i];

    const holder = document.createElement('div');
    holder.className = 'panel';
    holder.style.top = top + 'px';
    holder.style.height = h + 'px';
    const canvas = document.createElement('canvas');
    canvas.width = 1815;
    canvas.height = h;
    canvas.style.width = '1815px';
    canvas.style.height = h + 'px';
    holder.appendChild(canvas);
    document.getElementById('wrap').appendChild(holder);

    const background = [];
    pushMarkers(background, markerPos2, panelValues2[i]);
    pushMarkers(background, markerPos, panelValues[i]);
    extraPanel.forEach((p, k) => {
        if (p === i) background.push({ x: cumPos(extraChr[k], extraPos[k]), y: extraVal[k], chr: extraChr[k] });
    });
    const hits = panelHits[i].map((v, k) => ({ x: cumPos(hitChr[k], hitPos[k]), y: v, chr: hitChr[k] }));
    const topHit = Math.max(...panelHits[i]);

    const hollowBelow = 0.07 * ym;
    const isFilled = ctx => ctx.raw && ctx.raw.y >= hollowBelow;
    const rawColor = ctx => ctx.raw ? colorOf(ctx.raw.chr) : '#999';

    new Chart(canvas.getContext('2d'), {
        type: 'scatter',
        data: {
            datasets: [
                {
                    data: background,
                    order: 5,
                    pointRadius: ctx => isFilled(ctx) ? 4.6 : 3.3,
                    pointBackgroundColor: ctx => isFilled(ctx) ? rawColor(ctx) : 'rgba(255,255,255,0)',
                    pointBorderColor: rawColor,
                    pointBorderWidth: ctx => isFilled(ctx) ? 0 : 1.5
                },
                {
                    // light halo inside the ring
                    data: hits,
                    order: 4,
                    pointRadius: 8.5,
                    pointBackgroundColor: 'rgba(255,255,255,0.8)',
                    pointBorderWidth: 0
                },
                {
                    // the marker itself, sized by its value
                    data: hits,
                    order: 3,
                    pointRadius: ctx => ctx.raw ? 4 + 4.3 * ctx.raw.y / topHit : 4,
                    pointBackgroundColor: ctx => withAlpha(rawColor(ctx), 0.8),
                    pointBorderWidth: 0
                },
                {
                    // dark ring
                    data: hits,
                    order: 2,
                    pointRadius: 8.5,
                    pointBackgroundColor: 'rgba(0,0,0,0)',
                    pointBorderColor: '#3a3a3a',
                    pointBorderWidth: 1.9
                },
                {
                    // dark centre
                    data: hits,
                    order: 1,
                    pointRadius: 3.6,
                    pointBackgroundColor: '#4a4a4a',
                    pointBorderWidth: 0
                }
            ]
        },
        options: {
            responsive: false,
            animation: false,
            devicePixelRatio: 1,
            events: [],
            layout: {
                autoPadding: false,
                padding: { left: 0, right: 49, top: 13, bottom: last ? 0 : h - 120 }
            },
            plugins: {
                legend: { display: false },
                tooltip: { enabled: false },
                decor: { label: panelNames[i] }
            },
            scales: {
                x: {
                    type: 'linear',
                    min: xMin,
                    max: xMax,
                    display: last,
                    grid: { display: false, drawTicks: false },
                    border: { display: false },
                    afterBuildTicks: s => { s.ticks = chrTickPos.map(v => ({ value: v })); },
                    afterFit: s => {
                        if (last) s.height = 30;
                        s.paddingLeft = 0;
                        s.paddingRight = 0;
                    },
                    ticks: {
                        autoSkip: false,
                        maxRotation: 0,
                        padding: 13,
                        color: '#222',
                        font: { size: 17 },
                        callback: (v, idx) => chrTickLabels[idx]
                    }
                },
                y: {
                    type: 'linear',
                    min: -0.04 * ym,
                    max: 1.04 * ym,
                    grid: { display: false, drawTicks: false },
                    border: { display: false },
                    afterBuildTicks: s => { s.ticks = yTicks[i].map(v => ({ value: v })); },
                    afterFit: s => {
                        s.width = 86;
                        s.paddingTop = 0;
                        s.paddingBottom = 0;
                    },
                    ticks: { autoSkip: false, padding: 15, color: '#222', font: { size: 18 } }
                }
            }
        },
        plugins: [decorPlugin]
    });
}

panelNames.forEach((name, i) => buildPanel(i));
</script>
</body>
</html>
